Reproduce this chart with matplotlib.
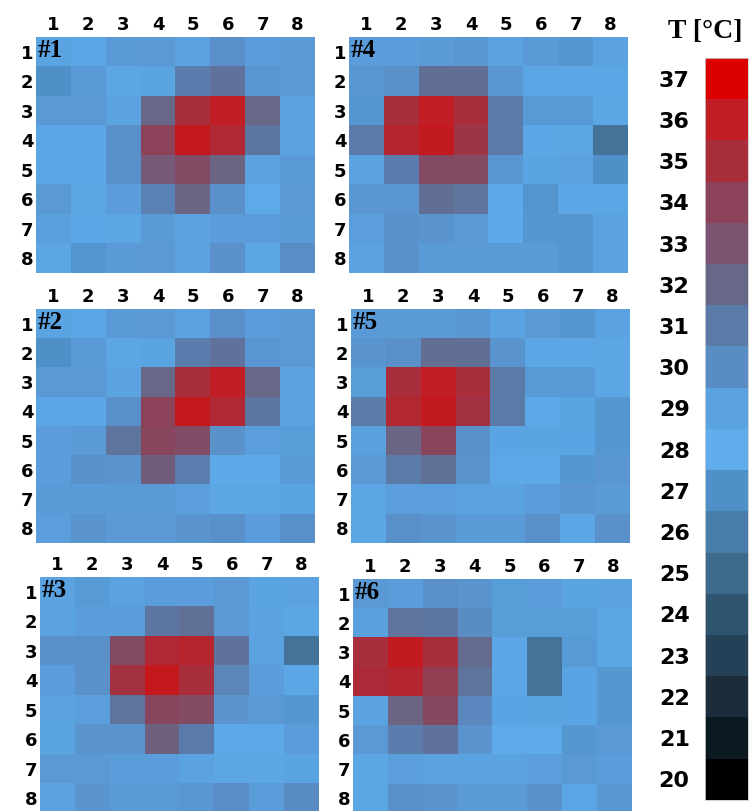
import matplotlib.pyplot as plt
import numpy as np
from matplotlib.colors import LinearSegmentedColormap, Normalize

# temperature readings, 8x8 per sample, rows top to bottom
t1 = [[28.8, 28.5, 29.3, 29.4, 29.0, 29.8, 29.2, 29.4],
      [27.0, 29.3, 28.6, 28.8, 30.8, 31.4, 29.5, 29.4],
      [29.4, 29.4, 29.0, 32.0, 35.0, 36.0, 32.0, 29.0],
      [28.5, 28.5, 29.8, 34.0, 36.2, 35.3, 31.2, 29.0],
      [28.5, 28.5, 29.8, 32.7, 33.5, 32.2, 29.0, 29.3],
      [29.4, 28.6, 29.2, 30.6, 32.2, 29.7, 28.3, 29.4],
      [27.6, 28.5, 28.6, 29.3, 29.0, 29.2, 29.2, 29.3],
      [28.6, 27.2, 29.3, 29.4, 28.9, 29.7, 28.6, 29.9]]

t2 = [[28.8, 28.5, 29.3, 29.4, 29.0, 29.8, 29.2, 29.4],
      [27.0, 29.3, 28.6, 28.8, 30.8, 31.4, 29.5, 29.4],
      [29.4, 29.4, 29.0, 32.0, 35.0, 36.0, 32.0, 29.0],
      [28.5, 28.5, 29.8, 34.0, 36.2, 35.3, 31.2, 29.0],
      [29.2, 29.3, 31.3, 33.7, 33.4, 29.7, 29.1, 27.5],
      [29.2, 29.7, 29.6, 32.5, 30.7, 28.4, 28.4, 29.3],
      [29.3, 29.3, 29.3, 29.3, 29.1, 28.6, 28.6, 28.8],
      [29.1, 29.6, 29.4, 29.4, 29.6, 29.8, 29.2, 29.8]]

t3 = [[29.0, 27.4, 29.0, 29.2, 29.2, 29.4, 28.8, 29.0],
      [29.0, 29.2, 29.2, 31.2, 31.5, 29.4, 28.9, 28.6],
      [29.7, 29.8, 33.5, 35.3, 35.6, 31.4, 29.0, 25.5],
      [29.2, 29.7, 34.8, 36.2, 35.0, 30.3, 29.2, 28.5],
      [28.9, 29.1, 31.3, 33.7, 33.5, 29.6, 29.4, 27.3],
      [28.8, 29.6, 29.6, 32.3, 30.9, 28.4, 28.4, 29.2],
      [29.4, 29.4, 29.2, 29.2, 29.0, 28.6, 28.6, 28.8],
      [29.0, 29.6, 29.3, 29.3, 29.5, 29.9, 29.2, 30.0]]

t4 = [[29.2, 29.2, 29.3, 29.5, 29.0, 29.3, 27.3, 28.9],
      [29.5, 29.7, 31.6, 31.6, 29.5, 28.5, 28.5, 28.5],
      [27.3, 35.0, 36.0, 35.0, 31.0, 27.4, 27.4, 28.6],
      [30.9, 35.5, 36.1, 34.6, 30.9, 28.5, 28.6, 25.5],
      [28.9, 30.8, 33.5, 33.5, 29.5, 28.8, 28.9, 27.0],
      [29.5, 29.5, 31.6, 31.3, 28.4, 27.2, 28.5, 28.5],
      [29.1, 29.7, 29.6, 29.4, 28.4, 27.3, 27.3, 29.0],
      [28.9, 29.7, 29.3, 29.3, 29.3, 29.3, 27.3, 29.0]]

t5 = [[29.3, 29.3, 29.3, 29.5, 29.0, 29.4, 27.3, 28.9],
      [29.6, 29.8, 31.6, 31.6, 29.6, 28.5, 28.5, 28.6],
      [27.5, 35.0, 36.0, 35.0, 31.0, 27.4, 27.4, 28.6],
      [31.0, 35.4, 36.1, 34.8, 31.0, 28.4, 28.8, 27.3],
      [27.6, 32.2, 33.8, 29.8, 28.7, 28.8, 28.7, 27.3],
      [29.4, 31.0, 31.5, 29.6, 28.4, 28.4, 27.3, 29.5],
      [27.8, 29.1, 29.1, 29.0, 29.0, 29.2, 29.5, 29.3],
      [27.8, 29.8, 29.6, 29.3, 29.3, 29.8, 28.5, 29.7]]

t6 = [[29.4, 29.2, 29.8, 29.6, 27.5, 29.2, 28.8, 29.0],
      [27.6, 31.3, 31.2, 30.0, 27.5, 27.5, 27.5, 28.6],
      [35.0, 36.1, 35.0, 31.8, 28.5, 25.5, 27.4, 28.6],
      [35.2, 35.5, 34.2, 31.3, 28.5, 25.5, 28.7, 27.3],
      [27.7, 32.2, 33.6, 30.2, 28.7, 28.8, 28.7, 27.3],
      [29.4, 30.8, 31.4, 29.6, 28.3, 28.3, 27.3, 29.4],
      [27.8, 29.1, 29.0, 29.0, 29.0, 29.1, 29.4, 29.2],
      [27.8, 29.8, 29.6, 29.3, 29.3, 29.7, 28.5, 29.5]]

labels = ["#1", "#2", "#3", "#4", "#5", "#6"]
ticks = [1, 2, 3, 4, 5, 6, 7, 8]
levels = list(range(20, 38))
level_colors = ["#000000", "#0a1a20", "#1c2c3a", "#264258", "#2f5470", "#3e6a8c",
                "#4a7eaa", "#5090c8", "#60acec", "#5aa2e0", "#5a8cc4", "#5a7aa8",
                "#686888", "#7a5470", "#8c4258", "#a82e3c", "#c01e24", "#dc0000"]

cmap = LinearSegmentedColormap.from_list(
    "temp", [((v - 20) / 17, c) for v, c in zip(levels, level_colors)])
norm = Normalize(vmin=20, vmax=37)

fig = plt.figure(figsize=(7.55, 8.11), dpi=100)
W, H = 755, 811

# panel boxes in pixels: left, top, right, bottom
boxes = [(36, 37, 315, 273), (36, 309, 315, 543), (40, 577, 319, 813),
         (349, 37, 628, 273), (351, 309, 630, 543), (353, 579, 631, 813)]
data = [t1, t2, t3, t4, t5, t6]

for box, vals, lab in zip(boxes, data, labels):
    x0, y0, x1, y1 = box
    ax = fig.add_axes([x0 / W, 1 - y1 / H, (x1 - x0) / W, (y1 - y0) / H])
    ax.imshow(np.array(vals), cmap=cmap, norm=norm, aspect='auto',
              interpolation='nearest', extent=(0.5, 8.5, 8.5, 0.5))
    ax.set_xticks(ticks)
    ax.set_yticks(ticks)
    ax.set_xticklabels(ticks, fontsize=13, fontweight='bold')
    ax.set_yticklabels(ticks, fontsize=13, fontweight='bold')
    ax.xaxis.tick_top()
    ax.tick_params(length=0, pad=2)
    for s in ax.spines.values():
        s.set_visible(False)
    ax.text(0.56, 0.56, lab, fontsize=18, fontweight='bold', family='Liberation Serif',
            ha='left', va='top')

# colorbar as discrete blocks
cax = fig.add_axes([705 / W, 1 - 800 / H, 43 / W, 742 / H])
cax.imshow(np.array(levels[::-1])[:, None], cmap=cmap, norm=norm, aspect='auto',
           interpolation='nearest', extent=(0, 1, 19.5, 37.5))
cax.set_xticks([])
cax.set_yticks(levels)
cax.set_yticklabels(levels, fontsize=16, fontweight='bold')
cax.tick_params(length=0, pad=11)
for s in cax.spines.values():
    s.set_color('#cccccc')
    s.set_linewidth(0.6)

fig.text(705 / W, 1 - 32 / H, "T [°C]", fontsize=20, fontweight='bold',
         family='Liberation Serif', ha='center', va='center')

fig.savefig("out.png", dpi=100)
